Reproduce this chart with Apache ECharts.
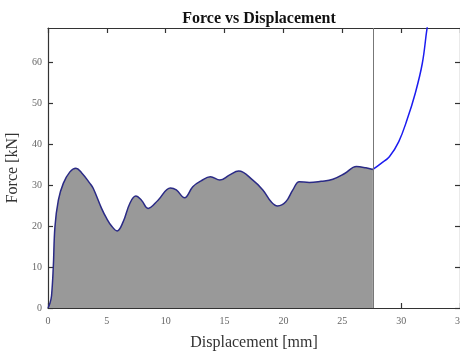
<!DOCTYPE html>
<html>
<head>
<meta charset="utf-8">
<script src="https://cdn.jsdelivr.net/npm/echarts@6/dist/echarts.min.js"></script>
<style>
  html, body { margin: 0; padding: 0; background: #fff; }
  #chart { width: 460px; height: 352px; }
</style>
</head>
<body>
<div id="chart"></div>
<script>
// loaded part (shaded) up to the marked displacement
const dispLoad = [0, 0.17, 0.3, 0.45, 0.59, 0.88, 1.3, 1.86, 2.37, 2.85, 3.56, 3.84, 4.55, 4.97, 5.4, 5.87, 6.38, 6.95, 7.46, 7.94, 8.5, 9.35, 10.4, 10.9, 11.6, 12.3, 13.0, 13.8, 14.6, 15.4, 16.2, 17.4, 18.25, 18.96, 19.5, 20.2, 20.8, 21.35, 22.2, 23.2, 24.2, 25.2, 26.2, 27.0, 27.6]
const forceLoad = [0, 1.2, 3, 10, 19.8, 26.3, 30.4, 33.2, 34.1, 33, 30.4, 29.2, 24.3, 21.9, 20, 18.8, 21, 25.5, 27.3, 26.3, 24.3, 26.3, 29.3, 28.8, 26.9, 29.6, 31, 32, 31.2, 32.4, 33.4, 31.2, 28.8, 25.9, 24.9, 25.9, 28.8, 30.8, 30.6, 30.9, 31.4, 32.8, 34.5, 34.2, 33.8]
// continuation after the marked displacement
const dispRise = [27.6, 28.3, 29.0, 29.8, 30.5, 31.2, 31.8, 32.2, 32.6]
const forceRise = [33.8, 35.3, 36.9, 40.6, 45.9, 52.4, 59.7, 68.2, 75]
const markX = 27.6
const yTicks = [0, 10, 20, 30, 40, 50, 60]

const pair = (xs, ys) => xs.map((x, i) => [x, ys[i]])
const serif = 'Liberation Serif'
const frameColor = '#333'

const chart = echarts.init(document.getElementById('chart'))
chart.setOption({
  animation: false,
  title: {
    text: 'Force vs Displacement',
    left: 254, top: 6, textAlign: 'center',
    textStyle: { fontFamily: serif, fontWeight: 'bold', fontSize: 16, color: '#111' }
  },
  grid: { left: 48, top: 28, width: 412, height: 280, outerBoundsMode: 'none' },
  xAxis: [
    {
      type: 'value', min: 0, max: 35, interval: 5,
      name: 'Displacement [mm]', nameLocation: 'middle', nameGap: 27,
      nameTextStyle: { fontFamily: serif, fontSize: 16, color: '#333' },
      axisLine: { show: true, lineStyle: { color: frameColor, width: 1.2 } },
      axisTick: { show: true, inside: true, length: 5, lineStyle: { color: frameColor, width: 1.2 } },
      axisLabel: { fontFamily: serif, fontSize: 10, color: '#666', margin: 8 },
      splitLine: { show: false }
    },
    {
      type: 'value', min: 0, max: 35, interval: 5, position: 'top',
      axisLine: { show: true, onZero: false, lineStyle: { color: frameColor, width: 1.2 } },
      axisTick: { show: true, inside: true, length: 5, lineStyle: { color: frameColor, width: 1.2 } },
      axisLabel: { show: false },
      splitLine: { show: false }
    }
  ],
  yAxis: [
    {
      type: 'value', min: 0, max: 68.3,
      name: 'Force [kN]', nameLocation: 'middle', nameGap: 23,
      nameTextStyle: { fontFamily: serif, fontSize: 16, color: '#333' },
      axisLine: { show: true, lineStyle: { color: frameColor, width: 1.2 } },
      axisTick: { show: true, inside: true, length: 5, customValues: yTicks, lineStyle: { color: frameColor, width: 1.2 } },
      axisLabel: { fontFamily: serif, fontSize: 10, color: '#666', margin: 6, customValues: yTicks },
      splitLine: { show: false }
    },
    {
      type: 'value', min: 0, max: 68.3, position: 'right',
      axisLine: { show: true, onZero: false, lineStyle: { color: frameColor, width: 1.2 } },
      axisTick: { show: true, inside: true, length: 5, customValues: yTicks, lineStyle: { color: frameColor, width: 1.2 } },
      axisLabel: { show: false },
      splitLine: { show: false }
    }
  ],
  series: [
    {
      type: 'line', data: pair(dispLoad, forceLoad), smooth: 0.4,
      showSymbol: false,
      lineStyle: { color: '#2a2a86', width: 1.5 },
      areaStyle: { color: '#999999', opacity: 1 },
      markLine: {
        silent: true, symbol: 'none', label: { show: false },
        lineStyle: { color: '#777', width: 1, type: 'solid' },
        data: [{ xAxis: markX }]
      }
    },
    {
      type: 'line', data: pair(dispRise, forceRise), smooth: 0.4,
      showSymbol: false,
      lineStyle: { color: '#1c1cf0', width: 1.5 }
    }
  ]
})
</script>
</body>
</html>
